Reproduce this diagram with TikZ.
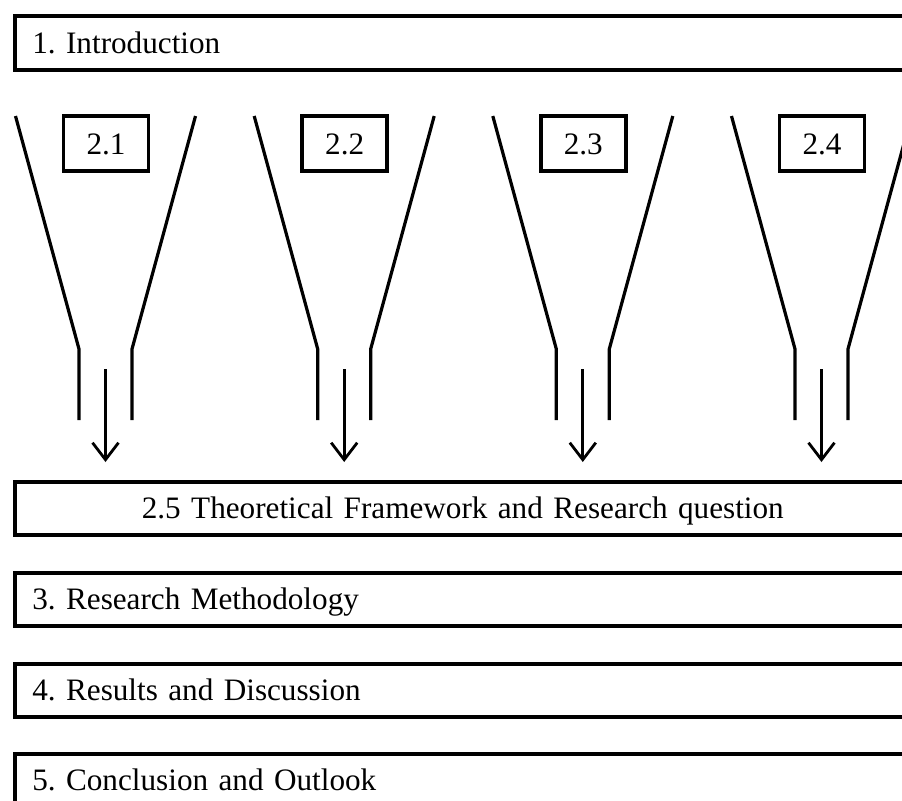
\documentclass[tikz,border=0pt]{standalone}
\usepackage{fontspec}
\setmainfont{Liberation Serif}
\usetikzlibrary{arrows.meta}
\frenchspacing
\begin{document}
\begin{tikzpicture}[x=0.5pt,y=-0.5pt,
  txt/.style={font=\fontsize{15.6pt}{19pt}\selectfont},
  bigbox/.style={txt, draw, line width=1.8pt, anchor=north west, minimum height=26.5pt,
    text width=430.5pt, inner xsep=8.75pt, inner ysep=2.5pt, text height=16pt, text depth=5.5pt, align=left},
  smallbox/.style={txt, draw, line width=1.8pt, minimum width=42.5pt, minimum height=27.5pt,
    inner xsep=2pt, inner ysep=3pt, text height=16pt, text depth=5.5pt, align=center},
  funnel/.style={line width=1.6pt, line join=round},
  arr/.style={line width=1.4pt, -{Straight Barb[length=8.5pt,width=13pt,line width=1.4pt]}, shorten >=9pt}
]
\useasboundingbox (0,0) rectangle (902,800);
\begin{scope}
\clip (0,0) rectangle (902,800);
\node[bigbox, minimum height=27pt] (intro) at (13,14) {1. Introduction};
\node[bigbox, align=center] (th) at (13,480) {2.5 Theoretical Framework and Research question};
\node[bigbox] (meth) at (13,571) {3. Research Methodology};
\node[bigbox] (res) at (13,662) {4. Results and Discussion};
\node[bigbox] (conc) at (13,752) {5. Conclusion and Outlook};
\foreach \c/\n in {105.5/1, 344.2/2, 582.8/3, 821.5/4}{
  \draw[funnel] (\c-90,116) -- (\c-26.5,349) -- (\c-26.5,420);
  \draw[funnel] (\c+90,116) -- (\c+26.5,349) -- (\c+26.5,420);
  \node[smallbox] (s\n) at (\c+0.5,143.5) {2.\n};
  \coordinate (a\n) at (\c,369);
  \draw[arr] (a\n) -- (a\n |- th.north);
}
\end{scope}
\end{tikzpicture}
\end{document}
